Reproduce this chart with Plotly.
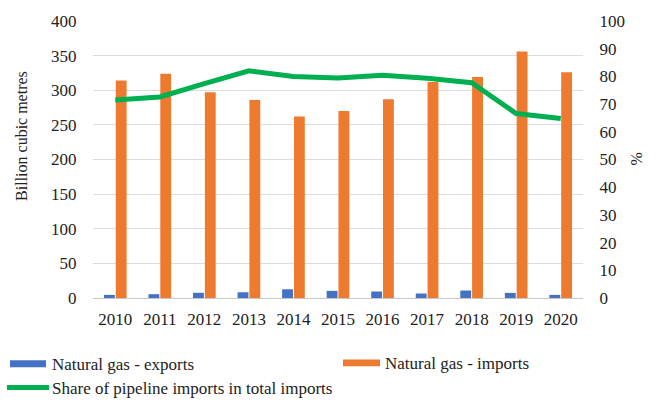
import plotly.graph_objects as go

# Data
years = ["2010", "2011", "2012", "2013", "2014", "2015", "2016", "2017", "2018", "2019", "2020"]
exports_bcm = [4.5, 5.5, 7.5, 8.3, 12.6, 10.3, 9.4, 6.5, 10.8, 7.4, 4.5]
imports_bcm = [314, 324, 297, 286, 262, 270, 287, 312, 319, 356, 326]
pipeline_share_pct = [71.5, 72.6, 77.4, 82.0, 80.0, 79.4, 80.4, 79.3, 77.7, 66.6, 64.8]

W, H = 660, 401
L, R, T, B = 93, 77, 16, 103
PW, PH = W - L - R, H - T - B

BLUE = "#4472C4"
ORANGE = "#EE7A30"
GREEN = "#00B050"
FONT = "'Liberation Serif', 'DejaVu Serif', serif"
TXT = "#222222"


def px_x(x):
    return (x - L) / PW


def px_y(y):
    return (H - B - y) / PH


fig = go.Figure()
fig.add_trace(go.Bar(x=years, y=exports_bcm, name="Natural gas - exports",
                     marker=dict(color=BLUE, line=dict(width=0)), showlegend=False))
fig.add_trace(go.Bar(x=years, y=imports_bcm, name="Natural gas - imports",
                     marker=dict(color=ORANGE, line=dict(width=0)), showlegend=False))
fig.add_trace(go.Scatter(x=years, y=pipeline_share_pct, yaxis="y2", mode="lines",
                         name="Share of pipeline imports in total imports",
                         line=dict(color=GREEN, width=5), showlegend=False))

fig.update_layout(
    width=W, height=H,
    margin=dict(l=L, r=R, t=T, b=B, pad=0),
    paper_bgcolor="white", plot_bgcolor="white",
    barmode="group", bargap=0.47, bargroupgap=0.08,
    font=dict(family=FONT, size=17, color=TXT),
    xaxis=dict(type="category", showgrid=False, showline=True, linecolor="#C8C8C8",
               linewidth=1, ticks="outside", ticklen=6, tickcolor="rgba(0,0,0,0)",
               tickfont=dict(family=FONT, size=17, color=TXT)),
    yaxis=dict(range=[0, 400], dtick=50, showgrid=True, gridcolor="#DCDCDC", gridwidth=1,
               zeroline=False, showline=False, ticks="outside", ticklen=12,
               tickcolor="rgba(0,0,0,0)", tickfont=dict(family=FONT, size=17, color=TXT)),
    yaxis2=dict(range=[0, 100], dtick=10, overlaying="y", side="right", showgrid=False,
                zeroline=False, showline=False, ticks="outside", ticklen=12,
                tickcolor="rgba(0,0,0,0)", tickfont=dict(family=FONT, size=17, color=TXT)),
)

# Axis titles
fig.add_annotation(text="Billion cubic metres", xref="paper", yref="paper",
                   x=px_x(22), y=px_y(133), textangle=-90, showarrow=False,
                   font=dict(family=FONT, size=16, color=TXT),
                   xanchor="center", yanchor="middle")
fig.add_annotation(text="%", xref="paper", yref="paper",
                   x=px_x(636), y=px_y(157), textangle=-90, showarrow=False,
                   font=dict(family=FONT, size=16, color=TXT),
                   xanchor="center", yanchor="middle")

# Legend
legend_items = [
    ("rect", BLUE, 10, 46, 365, "Natural gas - exports", 50),
    ("rect", ORANGE, 343, 380, 364, "Natural gas - imports", 383),
    ("line", GREEN, 7, 49, 389, "Share of pipeline imports in total imports", 50),
]
for kind, col, x0, x1, yc, label, tx in legend_items:
    if kind == "rect":
        fig.add_shape(type="rect", xref="paper", yref="paper",
                      x0=px_x(x0), x1=px_x(x1), y0=px_y(yc - 3.5), y1=px_y(yc + 3.5),
                      fillcolor=col, line=dict(width=0))
    else:
        fig.add_shape(type="line", xref="paper", yref="paper",
                      x0=px_x(x0), x1=px_x(x1), y0=px_y(yc), y1=px_y(yc),
                      line=dict(color=col, width=5))
    fig.add_annotation(text=label, xref="paper", yref="paper", x=px_x(tx), y=px_y(yc + 1),
                       showarrow=False, xanchor="left", yanchor="middle",
                       font=dict(family=FONT, size=17, color=TXT))

fig.write_html("out.html")
